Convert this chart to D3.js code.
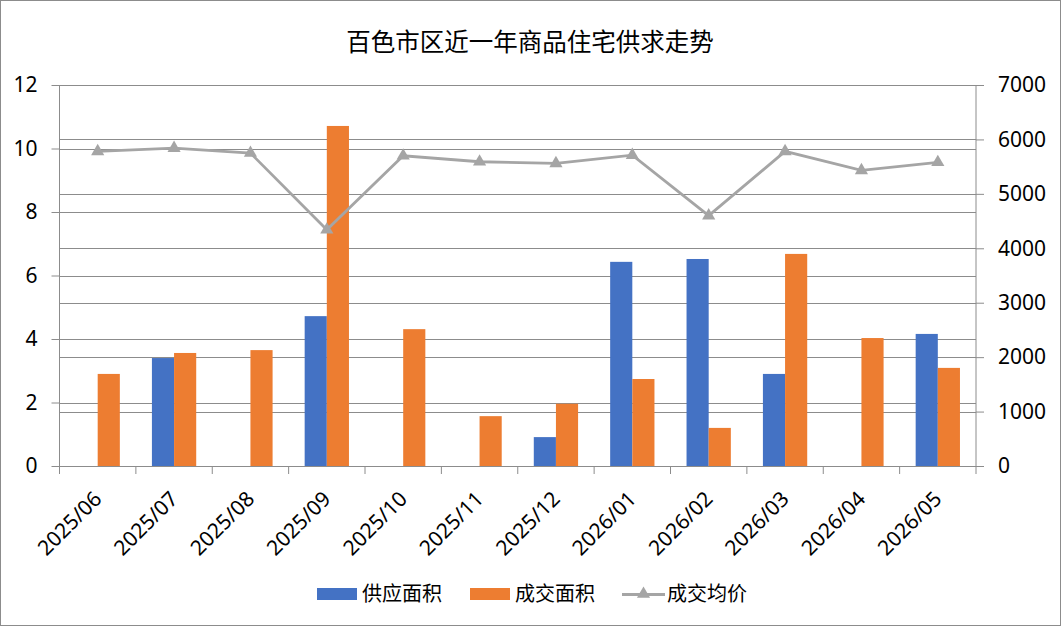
<!DOCTYPE html>
<html>
<head>
<meta charset="utf-8">
<script src="https://cdn.jsdelivr.net/npm/d3@7"></script>
<style>
  body { margin: 0; background: #fff; }
  svg text { font-family: "Noto Sans", "Noto Sans CJK SC", sans-serif; fill: #000; }
</style>
</head>
<body>
<svg id="chart" width="1061" height="626"></svg>
<script>
var months = ['2025/06', '2025/07', '2025/08', '2025/09', '2025/10', '2025/11',
  '2025/12', '2026/01', '2026/02', '2026/03', '2026/04', '2026/05']
var supplyArea = [0, 3.40, 0, 4.72, 0, 0, 0.91, 6.43, 6.52, 2.90, 0, 4.16]
var dealArea = [2.90, 3.56, 3.65, 10.71, 4.31, 1.57, 1.96, 2.74, 1.20, 6.68, 4.03, 3.09]
var avgPrice = [5780, 5840, 5750, 4340, 5700, 5590, 5560, 5710, 4600, 5780, 5430, 5580]
var leftTicks = [0, 2, 4, 6, 8, 10, 12]
var rightTicks = [0, 1000, 2000, 3000, 4000, 5000, 6000, 7000]
var seriesNames = ['供应面积', '成交面积', '成交均价']
var title = '百色市区近一年商品住宅供求走势'

var colors = {supply: '#4472C4', deal: '#ED7D31', price: '#A5A5A5', grid: '#8c8c8c'}

var svg = d3.select('#chart')
var m = {left: 59.5, right: 976, top: 85, bottom: 466}

// chart border
svg.append('rect')
  .attr('x', 0.5).attr('y', 0.5).attr('width', 1060).attr('height', 625)
  .attr('fill', '#fff').attr('stroke', '#8c8c8c')

var x = d3.scaleBand().domain(months).range([m.left, m.right])
  .paddingInner(0.42).paddingOuter(0.21)
var xs = d3.scaleBand().domain(['supply', 'deal']).range([0, x.bandwidth()])
var yL = d3.scaleLinear().domain([0, 12]).range([m.bottom, m.top])
var yR = d3.scaleLinear().domain([0, 7000]).range([m.bottom, m.top])

// gridlines, both axes
var grid = svg.append('g')
grid.selectAll('line.gl').data(leftTicks).join('line')
  .attr('x1', m.left).attr('x2', m.right)
  .attr('y1', d => Math.round(yL(d)) + 0.5).attr('y2', d => Math.round(yL(d)) + 0.5)
  .attr('stroke', colors.grid)
grid.selectAll('line.gr').data(rightTicks).join('line')
  .attr('x1', m.left).attr('x2', m.right)
  .attr('y1', d => Math.round(yR(d)) + 0.5).attr('y2', d => Math.round(yR(d)) + 0.5)
  .attr('stroke', colors.grid)

// axes
var leftAxis = svg.append('g').attr('transform', `translate(${m.left},0)`)
  .call(d3.axisLeft(yL).tickValues(leftTicks).tickSize(8).tickPadding(14))
var rightAxis = svg.append('g').attr('transform', `translate(${m.right},0)`)
  .call(d3.axisRight(yR).tickValues(rightTicks).tickFormat(d3.format('d')).tickSize(8).tickPadding(14))
;[leftAxis, rightAxis].forEach(a => {
  a.select('.domain').attr('stroke', colors.grid).attr('d', `M0,${m.top}V${m.bottom}`)
  a.selectAll('.tick line').attr('stroke', colors.grid)
  a.selectAll('text').attr('font-size', 21).attr('fill', '#000')
})

// bars
var groups = svg.append('g').selectAll('g').data(months).join('g')
  .attr('transform', d => `translate(${x(d)},0)`)
groups.append('rect')
  .attr('x', xs('supply')).attr('width', xs.bandwidth())
  .attr('y', (d, i) => yL(supplyArea[i])).attr('height', (d, i) => yL(0) - yL(supplyArea[i]))
  .attr('fill', colors.supply)
groups.append('rect')
  .attr('x', xs('deal')).attr('width', xs.bandwidth())
  .attr('y', (d, i) => yL(dealArea[i])).attr('height', (d, i) => yL(0) - yL(dealArea[i]))
  .attr('fill', colors.deal)

// bottom axis with ticks at category boundaries
var xAxis = svg.append('g')
xAxis.append('line')
  .attr('x1', m.left).attr('x2', m.right).attr('y1', m.bottom + 0.5).attr('y2', m.bottom + 0.5)
  .attr('stroke', colors.grid)
xAxis.selectAll('line.tk').data(d3.range(months.length + 1)).join('line')
  .attr('x1', i => m.left + i * (m.right - m.left) / months.length)
  .attr('x2', i => m.left + i * (m.right - m.left) / months.length)
  .attr('y1', m.bottom).attr('y2', m.bottom + 8)
  .attr('stroke', colors.grid)
xAxis.selectAll('text').data(months).join('text')
  .attr('transform', d => `translate(${x(d) + x.bandwidth() / 2},${m.bottom + 29}) rotate(-45)`)
  .attr('text-anchor', 'end')
  .attr('dy', '0.35em')
  .attr('font-size', 21)
  .text(d => d)

// price line
var line = d3.line().x((d, i) => x(months[i]) + x.bandwidth() / 2).y(d => yR(d))
svg.append('path').datum(avgPrice)
  .attr('d', line).attr('fill', 'none')
  .attr('stroke', colors.price).attr('stroke-width', 2.8)
var tri = d3.symbol().type(d3.symbolTriangle).size(75)
svg.append('g').selectAll('path').data(avgPrice).join('path')
  .attr('d', tri)
  .attr('transform', (d, i) => `translate(${x(months[i]) + x.bandwidth() / 2},${yR(d)})`)
  .attr('fill', colors.price)

// title
svg.append('text')
  .attr('x', 530).attr('y', 51)
  .attr('text-anchor', 'middle').attr('font-size', 24.5)
  .text(title)

// legend
var lg = svg.append('g').attr('transform', 'translate(0,594)')
lg.append('rect').attr('x', 317).attr('y', -6).attr('width', 40).attr('height', 12).attr('fill', colors.supply)
lg.append('text').attr('x', 362).attr('y', 0).attr('dy', '0.36em').attr('font-size', 20).text(seriesNames[0])
lg.append('rect').attr('x', 470).attr('y', -6).attr('width', 40).attr('height', 12).attr('fill', colors.deal)
lg.append('text').attr('x', 515).attr('y', 0).attr('dy', '0.36em').attr('font-size', 20).text(seriesNames[1])
lg.append('line').attr('x1', 622).attr('x2', 665).attr('y1', 0.5).attr('y2', 0.5)
  .attr('stroke', colors.price).attr('stroke-width', 2.8)
lg.append('path').attr('d', tri).attr('transform', 'translate(643.5,0)').attr('fill', colors.price)
lg.append('text').attr('x', 667).attr('y', 0).attr('dy', '0.36em').attr('font-size', 20).text(seriesNames[2])
</script>
</body>
</html>
